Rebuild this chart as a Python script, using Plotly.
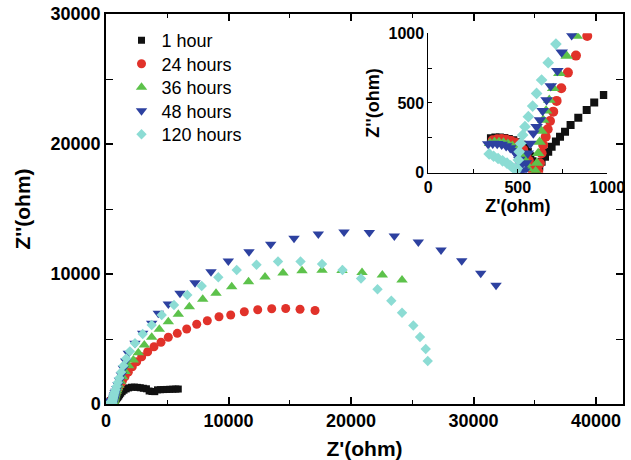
import plotly.graph_objects as go

# ---------------- data (Z' , Z'' in ohm) ----------------
names = ["1 hour", "24 hours", "36 hours", "48 hours", "120 hours"]

zr_1h = [350, 375, 400, 425, 450, 475, 500, 522, 540, 556, 570, 582, 592, 600,
         606, 620, 633, 652, 670, 689, 713, 736, 764, 795, 838, 885, 927, 981,
         1040, 1110, 1200, 1320, 1470, 1650, 1850, 2080, 2320, 2560, 2800, 3050, 3300,
         3520, 3750, 3980, 4200, 4450, 4700, 4950, 5200, 5450, 5700, 5900]
zi_1h = [248, 252, 252, 249, 242, 232, 218, 200, 178, 150, 118, 82, 45, 12,
         7, 43, 79, 115, 151, 187, 223, 258, 294, 342, 395, 450, 503, 558,
         620, 720, 830, 950, 1060, 1160, 1240, 1290, 1300, 1280, 1250, 1210, 1170,
         1000, 960, 950, 1090, 1100, 1110, 1120, 1130, 1140, 1150, 1150]

zr_24h = [360, 385, 410, 435, 460, 485, 510, 530, 548, 562, 575, 585,
          614, 624, 633, 642, 656, 667, 680, 698, 717, 743, 780, 825, 888,
          1000, 1150, 1330, 1550, 1820, 2147, 2506, 2914, 3404, 3918, 4490, 5086,
          5820, 6588, 7404, 8269, 9224, 10180, 11290, 12384, 13527, 14669, 15837, 17061]
zi_24h = [232, 240, 242, 238, 230, 216, 195, 165, 125, 85, 45, 10,
          7, 67, 139, 199, 258, 312, 371, 438, 515, 606, 718, 840, 981,
          1200, 1450, 1750, 2100, 2450, 2869, 3254, 3638, 4023, 4408, 4746, 5131,
          5438, 5769, 6131, 6408, 6715, 6846, 7100, 7254, 7331, 7346, 7292, 7192]

zr_36h = [345, 370, 395, 420, 445, 470, 495, 515, 532, 545, 556,
          600, 607, 614, 622, 632, 642, 658, 676, 698, 732, 773, 829,
          880, 950, 1050, 1180, 1350, 1560, 1850, 2229, 2637, 3127, 3731, 4351, 5086,
          5902, 6800, 7894, 8980, 10261, 11633, 12980, 14449, 16000, 17633, 19265,
          20898, 22555, 24163]
zi_36h = [212, 218, 219, 215, 206, 192, 172, 145, 108, 68, 30,
          10, 70, 140, 220, 300, 378, 445, 522, 606, 714, 838, 981,
          1100, 1250, 1450, 1750, 2100, 2500, 2950, 3385, 3946, 4538, 5131, 5746, 6331,
          6900, 7485, 8054, 8515, 9023, 9408, 9769, 10077, 10254, 10292, 10269,
          10115, 9923, 9538]

zr_48h = [335, 360, 385, 410, 435, 458, 478, 495, 508, 518, 525,
          535, 545, 556, 570, 587, 605, 624, 639, 661, 684, 721, 745, 801,
          880, 980, 1100, 1250, 1420, 1610, 1820, 2367, 2996, 3731, 4269, 5086, 6041,
          7265, 8571, 9984, 11673, 13445, 15347, 17330, 19429, 21494, 23535, 25494,
          27347, 29037, 30588, 31837]
zi_48h = [205, 210, 208, 202, 192, 178, 158, 130, 95, 55, 20,
          10, 70, 140, 210, 283, 330, 378, 445, 522, 622, 732, 864, 988,
          1200, 1480, 1820, 2250, 2750, 3300, 3900, 4670, 5438, 6208, 6977, 7692, 8515,
          9331, 10177, 11000, 11715, 12285, 12746, 13077, 13231, 13192, 12923, 12462,
          11846, 11023, 10054, 9131]

zr_120h = [340, 365, 390, 415, 440, 460, 478, 490,
           497, 503, 508, 516, 527, 540, 559, 583, 605, 633, 670, 713,
           780, 860, 960, 1080, 1230, 1420, 1650, 1950, 2367, 2996, 3731, 4547, 5551,
           6637, 7812, 9167, 10669, 12286, 14041, 15878, 17633, 19306, 20816, 22163,
           23290, 24163, 25086, 25633, 26098, 26261]
zi_120h = [135, 118, 102, 85, 68, 50, 32, 14,
           31, 91, 151, 210, 270, 330, 402, 478, 569, 665, 789, 923,
           1100, 1350, 1650, 2000, 2450, 2950, 3500, 4050, 4669, 5385, 6077, 6846, 7615,
           8385, 9077, 9746, 10308, 10715, 10962, 10962, 10769, 10308, 9654, 8831,
           7946, 7015, 6038, 5154, 4231, 3308]

main_xticks = [0, 10000, 20000, 30000, 40000]
main_yticks = [0, 10000, 20000, 30000]
inset_ticks = [0, 500, 1000]

# ---------------- styling ----------------
series = [
    (zr_1h, zi_1h, "square", "#111111", 7),
    (zr_24h, zi_24h, "circle", "#E1322A", 9),
    (zr_36h, zi_36h, "triangle-up", "#5DC24B", 10),
    (zr_48h, zi_48h, "triangle-down", "#2D41A0", 10),
    (zr_120h, zi_120h, "diamond", "#8CDCD4", 8),
]

FONT = "Liberation Sans, Arial, sans-serif"
W, H = 631, 460
ML, MR, MT, MB = 106, 8, 14, 56
PH = H - MT - MB

fig = go.Figure()

legend_ids = ["legend", "legend2", "legend3", "legend4", "legend5"]
for name, lid, (xs, ys, sym, col, sz) in zip(names, legend_ids, series):
    fig.add_trace(go.Scatter(x=xs, y=ys, mode="markers", name=name, legend=lid,
                             marker=dict(symbol=sym, color=col, size=sz, line=dict(width=0)),
                             xaxis="x", yaxis="y"))
for name, (xs, ys, sym, col, sz) in zip(names, series):
    fig.add_trace(go.Scatter(x=xs, y=ys, mode="markers", name=name, showlegend=False,
                             marker=dict(symbol=sym, color=col, size=sz + 1, line=dict(width=0)),
                             xaxis="x2", yaxis="y2"))

axis_common = dict(showgrid=False, zeroline=False, showline=True, linecolor="black",
                   ticks="inside", tickcolor="black", automargin=False, tickformat="d")

layout = dict(
    width=W, height=H,
    margin=dict(l=ML, r=MR, t=MT, b=MB),
    paper_bgcolor="white", plot_bgcolor="white",
    font=dict(family=FONT, color="black"),
    xaxis=dict(**axis_common, range=[0, 42200], tickvals=main_xticks, linewidth=1.5,
               ticklen=7, tickwidth=1.5, mirror="allticks",
               minor=dict(dtick=5000, ticks="inside", ticklen=4, tickwidth=1.2, tickcolor="black"),
               tickfont=dict(size=18, weight="bold", family=FONT),
               title=dict(text="Z'(ohm)", font=dict(size=21, weight="bold", family=FONT), standoff=12)),
    yaxis=dict(**axis_common, range=[0, 30000], tickvals=main_yticks, linewidth=1.5,
               ticklen=7, tickwidth=1.5, mirror="allticks",
               minor=dict(dtick=5000, ticks="inside", ticklen=7, tickwidth=1.2, tickcolor="black"),
               tickfont=dict(size=18, weight="bold", family=FONT),
               title=dict(text="Z''(ohm)", font=dict(size=21, weight="bold", family=FONT), standoff=14)),
    xaxis2=dict(**axis_common, domain=[0.6234, 0.9696], anchor="y2", range=[0, 1000],
                tickvals=inset_ticks, linewidth=1, ticklen=4, tickwidth=1,
                minor=dict(dtick=250, ticks="inside", ticklen=4, tickwidth=1, tickcolor="black"),
                tickfont=dict(size=16, weight="bold", family=FONT),
                title=dict(text="Z'(ohm)", font=dict(size=18, weight="bold", family=FONT), standoff=0)),
    yaxis2=dict(**axis_common, domain=[0.5931, 0.9505], anchor="x2", range=[0, 1000],
                tickvals=inset_ticks, linewidth=1, ticklen=4, tickwidth=1,
                minor=dict(dtick=250, ticks="inside", ticklen=4, tickwidth=1, tickcolor="black"),
                tickfont=dict(size=16, weight="bold", family=FONT),
                title=dict(text="Z''(ohm)", font=dict(size=18, weight="bold", family=FONT), standoff=4)),
    showlegend=True,
)

# one legend box per series so row spacing can match the reference
row_centers = [43, 66.5, 90, 113.5, 137]
for lid, yc in zip(legend_ids, row_centers):
    top_px = yc - 21
    layout[lid] = dict(x=0.03, y=(H - MB - top_px) / PH, xanchor="left", yanchor="top",
                       bgcolor="rgba(0,0,0,0)",
                       font=dict(size=18, family=FONT, color="black"))

fig.update_layout(**layout)
fig.write_html("out.html")
